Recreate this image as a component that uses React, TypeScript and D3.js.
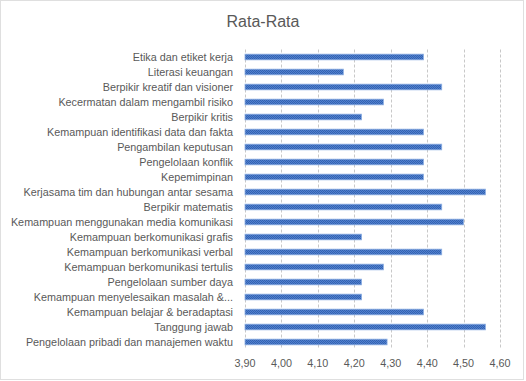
import React from "react";
import * as d3 from "d3";

const categories = [
  "Etika dan etiket kerja",
  "Literasi keuangan",
  "Berpikir kreatif dan visioner",
  "Kecermatan dalam mengambil risiko",
  "Berpikir kritis",
  "Kemampuan identifikasi data dan fakta",
  "Pengambilan keputusan",
  "Pengelolaan konflik",
  "Kepemimpinan",
  "Kerjasama tim dan hubungan antar sesama",
  "Berpikir matematis",
  "Kemampuan menggunakan media komunikasi",
  "Kemampuan berkomunikasi grafis",
  "Kemampuan berkomunikasi verbal",
  "Kemampuan berkomunikasi tertulis",
  "Pengelolaan sumber daya",
  "Kemampuan menyelesaikan masalah &...",
  "Kemampuan belajar & beradaptasi",
  "Tanggung jawab",
  "Pengelolaan pribadi dan manajemen waktu",
];

const values = [
  4.39, 4.17, 4.44, 4.28, 4.22, 4.39, 4.44, 4.39, 4.39, 4.56,
  4.44, 4.5, 4.22, 4.44, 4.28, 4.22, 4.22, 4.39, 4.56, 4.29,
];

const ticks = [3.9, 4.0, 4.1, 4.2, 4.3, 4.4, 4.5, 4.6];
const title = "Rata-Rata";

const W = 526;
const H = 381;

export default function App() {
  const x = d3.scaleLinear().domain([3.9, 4.6]).range([245, 500]);
  const y = d3
    .scaleBand<string>()
    .domain(categories)
    .range([49.5, 349.5])
    .paddingInner(0.62)
    .paddingOuter(0.31);
  const fmt = (v: number) => v.toFixed(2).replace(".", ",");
  const font = "'Liberation Sans', Arial, sans-serif";
  return (
    <svg
      width={W}
      height={H}
      style={{ position: "absolute", left: 0, top: 0, background: "#fff" }}
    >
      <defs>
        <pattern id="chk" width="2" height="2" patternUnits="userSpaceOnUse">
          <rect width="2" height="2" fill="#4f80cf" />
          <rect width="1" height="1" fill="#3462b0" />
          <rect x="1" y="1" width="1" height="1" fill="#3462b0" />
        </pattern>
      </defs>
      <rect
        x={0.5}
        y={0.5}
        width={523}
        height={379}
        fill="#fff"
        stroke="#bfbfbf"
        strokeDasharray="1,1"
      />
      <text
        x={263}
        y={27}
        textAnchor="middle"
        fontFamily={font}
        fontSize={16}
        fill="#595959"
      >
        {title}
      </text>
      {ticks.map((t) => (
        <line
          key={t}
          x1={Math.round(x(t)) + 0.5}
          x2={Math.round(x(t)) + 0.5}
          y1={49.5}
          y2={349.5}
          stroke="#c8c8c8"
          strokeDasharray="3,2"
        />
      ))}
      {categories.map((c, i) => (
        <g key={c}>
          <rect
            x={x(3.9)}
            y={y(c)!}
            width={x(values[i]) - x(3.9)}
            height={y.bandwidth()}
            fill="url(#chk)"
            stroke="#8eb0e3"
            strokeWidth={0.8}
          />
          <text
            x={233}
            y={y(c)! + y.bandwidth() / 2}
            dy="0.35em"
            textAnchor="end"
            fontFamily={font}
            fontSize={10.8}
            fill="#595959"
          >
            {c}
          </text>
        </g>
      ))}
      {ticks.map((t) => (
        <text
          key={"l" + t}
          x={x(t)}
          y={363}
          dy="0.35em"
          textAnchor="middle"
          fontFamily={font}
          fontSize={10.8}
          fill="#595959"
        >
          {fmt(t)}
        </text>
      ))}
    </svg>
  );
}
